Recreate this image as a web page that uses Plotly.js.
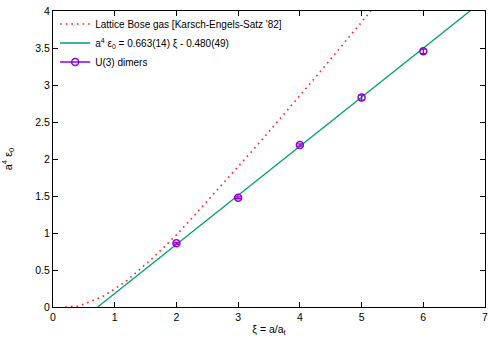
<!DOCTYPE html>
<html>
<head>
<meta charset="utf-8">
<script src="https://cdn.plot.ly/plotly-3.0.1.min.js"></script>
<style>html,body{margin:0;padding:0;background:#fff}#chart{width:489px;height:337px}</style>
</head>
<body>
<div id="chart"></div>
<script>
// Lattice Bose gas curve [Karsch-Engels-Satz '82]
var boseX = [0.2, 0.4, 0.6, 0.8, 1.0, 1.2, 1.4, 1.6, 1.8, 2.0, 2.25, 2.5, 2.75, 3.0, 3.25, 3.5, 3.75, 4.0, 4.25, 4.5, 4.75, 5.0, 5.15];
var boseY = [0.0, 0.01, 0.07, 0.14, 0.245, 0.36, 0.505, 0.65, 0.81, 0.975, 1.2, 1.43, 1.67, 1.9, 2.13, 2.37, 2.61, 2.86, 3.1, 3.35, 3.6, 3.85, 4.0];

// Linear fit line endpoints: a^4 eps0 = 0.663 xi - 0.480
var fitX = [0.724, 7.0];
var fitY = [0.0, 4.161];

// U(3) dimers data
var dimerX = [2, 3, 4, 5, 6];
var dimerY = [0.86, 1.475, 2.19, 2.83, 3.455];
var dimerErr = [0.012, 0.012, 0.015, 0.035, 0.03];

var xTicks = [0, 1, 2, 3, 4, 5, 6, 7];
var yTicks = [0, 0.5, 1, 1.5, 2, 2.5, 3, 3.5, 4];

var FONT = 'Liberation Sans, Arial, Helvetica, sans-serif';
var PURPLE = '#9400d3';

var traces = [
  {x: boseX, y: boseY, mode: 'lines', type: 'scatter', line: {color: '#ff2020', width: 1.6, dash: '1.6px,4px'},
   name: "Lattice Bose gas [Karsch-Engels-Satz '82]"},
  {x: fitX, y: fitY, mode: 'lines', type: 'scatter', line: {color: '#009e73', width: 1.3},
   name: 'a<sup>4</sup> ε<sub>0</sub> = 0.663(14) ξ - 0.480(49)'},
  {x: dimerX, y: dimerY, mode: 'markers', type: 'scatter', showlegend: false,
   marker: {symbol: 'circle-open', size: 7, color: PURPLE, line: {width: 1.5, color: PURPLE}},
   error_y: {type: 'data', array: dimerErr, visible: true, color: PURPLE, thickness: 1.3, width: 3},
   name: 'U(3) dimers'},
  {x: [null], y: [null], mode: 'lines+markers', type: 'scatter',
   marker: {symbol: 'circle-open', size: 7, color: PURPLE, line: {width: 1.5, color: PURPLE}},
   line: {color: PURPLE, width: 1.3},
   name: 'U(3) dimers'}
];

var axisCommon = {
  showline: true, linecolor: '#000', linewidth: 1, mirror: 'ticks',
  ticks: 'inside', ticklen: 5, tickcolor: '#000', tickwidth: 1,
  showgrid: false, zeroline: false,
  tickfont: {family: FONT, size: 10.5, color: '#000'}
};

var layout = {
  width: 489, height: 337,
  margin: {l: 53, r: 4, t: 11, b: 30},
  paper_bgcolor: '#fff', plot_bgcolor: '#fff',
  font: {family: FONT, size: 10, color: '#000'},
  xaxis: Object.assign({}, axisCommon, {
    range: [0, 7], tickvals: xTicks, ticktext: xTicks.map(String),
    title: {text: 'ξ = a/a<sub>t</sub>', font: {family: FONT, size: 10.5}, standoff: 10}
  }),
  yaxis: Object.assign({}, axisCommon, {
    range: [0, 4], tickvals: yTicks, ticktext: yTicks.map(String),
    title: {text: 'a<sup>4</sup> ε<sub>0</sub>', font: {family: FONT, size: 11}, standoff: 20}
  }),
  legend: {x: 0.005, y: 1.005, xanchor: 'left', yanchor: 'top', bgcolor: 'rgba(0,0,0,0)',
    font: {family: FONT, size: 10}, tracegroupgap: 0, itemwidth: 30},
  showlegend: true
};

Plotly.newPlot('chart', traces, layout, {displayModeBar: false, staticPlot: true});
</script>
</body>
</html>
